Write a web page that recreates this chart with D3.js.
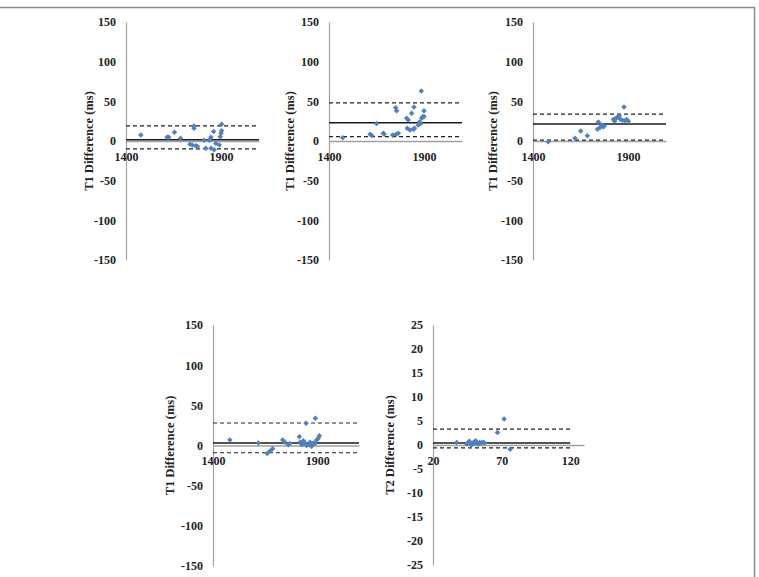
<!DOCTYPE html>
<html>
<head>
<meta charset="utf-8">
<script src="https://cdn.jsdelivr.net/npm/d3@7"></script>
<style>
  body { margin: 0; background: #fff; }
  svg text { font-family: "Liberation Serif", "Times New Roman", serif; fill: #222; }
  .tick text { font-size: 12px; font-weight: bold; }
  .ytitle { font-size: 12.5px; font-weight: bold; }
</style>
</head>
<body>
<svg width="759" height="577"></svg>
<script>
const width = 759;
const height = 577;
const svg = d3.select('svg');

// panel 1 (T1)
const p1X = [1478, 1616, 1625, 1655, 1687, 1758, 1758, 1737, 1749, 1767, 1776, 1811, 1820, 1838, 1847, 1847, 1861, 1864, 1873, 1891, 1896, 1900, 1903, 1903];
const p1Y = [7.6, 4.6, 4.6, 11, 3.4, 19, 16, -4, -5, -6, -7, 1, -9, 1, -9, 4.6, 12, -11, -3, -5, 5.4, 9.7, 13, 21];
const p1Lines = [1.5, 19, -10];

// panel 2 (T1)
const p2X = [1472, 1616, 1625, 1651, 1686, 1690, 1735, 1753, 1765, 1751, 1756, 1809, 1817, 1812, 1826, 1835, 1847, 1844, 1850, 1870, 1876, 1882, 1888, 1893, 1900, 1886, 1900];
const p2Y = [4, 8.4, 7, 22, 9.7, 8.5, 7.6, 8.4, 9.7, 42, 38, 28.6, 26.5, 16, 14, 35, 43, 14.7, 16, 20, 24, 22, 28.6, 30.7, 31, 63, 38];
const p2Lines = [23, 48, 5.5];

// panel 3 (T1)
const p3X = [1480, 1621, 1651, 1686, 1744, 1739, 1753, 1762, 1769, 1775, 1823, 1830, 1837, 1844, 1854, 1861, 1872, 1879, 1884, 1893, 1902];
const p3Y = [-1, 3.4, 12.6, 6.7, 24, 14.7, 17, 20, 18, 19, 27, 25, 28.6, 30, 31.5, 27, 26, 43, 25.6, 27, 25];
const p3Lines = [21.5, 34, 1];

// panel 4 (T1)
const p4X = [1481, 1617, 1660, 1673, 1686, 1734, 1745, 1761, 1768, 1814, 1817, 1826, 1833, 1841, 1846, 1849, 1862, 1865, 1873, 1881, 1889, 1891, 1897, 1905, 1910];
const p4Y = [7, 3, -10, -7, -4, 7, 4, 1, 2.5, 11, 4, 1, 6, 3, 27.6, 0, 1, 4, -1, 3, 2.5, 34, 7, 9, 12];
const p4Lines = [3, 28, -9];

// panel 5 (T2)
const p5X = [37.3, 44.6, 45.8, 47, 48, 49.4, 50.5, 51.7, 52.9, 54, 55.2, 56.4, 57.6, 46.5, 51, 67, 71.8, 76.2];
const p5Y = [0.5, 0.2, 0.6, 0.4, 0, 0.5, 0.4, 0.6, 0.2, 0.5, 0.4, 0.6, 0.4, 0.8, 0.9, 2.6, 5.4, -0.9];
const p5Lines = [0.4, 3.3, -0.6];

const t1Ticks = [-150, -100, -50, 0, 50, 100, 150];
const t2Ticks = [-25, -20, -15, -10, -5, 0, 5, 10, 15, 20, 25];
const t1XTicks = [1400, 1900];
const t2XTicks = [20, 70, 120];

const panels = [
    { xs: p1X, ys: p1Y, lines: p1Lines, xDom: [1400, 2100], lineEnd: 2100, yDom: [-150, 150], yTicks: t1Ticks, xTicks: t1XTicks, title: 'T1 Difference (ms)', left: 126, right: 259, top: 22, bottom: 260, titleOff: 37 },
    { xs: p2X, ys: p2Y, lines: p2Lines, xDom: [1400, 2100], lineEnd: 2100, yDom: [-150, 150], yTicks: t1Ticks, xTicks: t1XTicks, title: 'T1 Difference (ms)', left: 329, right: 462, top: 22, bottom: 260, titleOff: 39 },
    { xs: p3X, ys: p3Y, lines: p3Lines, xDom: [1400, 2100], lineEnd: 2100, yDom: [-150, 150], yTicks: t1Ticks, xTicks: t1XTicks, title: 'T1 Difference (ms)', left: 533, right: 666, top: 22, bottom: 260, titleOff: 40 },
    { xs: p4X, ys: p4Y, lines: p4Lines, xDom: [1400, 2100], lineEnd: 2100, yDom: [-150, 150], yTicks: t1Ticks, xTicks: t1XTicks, title: 'T1 Difference (ms)', left: 213, right: 359, top: 325, bottom: 566, titleOff: 43 },
    { xs: p5X, ys: p5Y, lines: p5Lines, xDom: [20, 130], lineEnd: 120, yDom: [-25, 25], yTicks: t2Ticks, xTicks: t2XTicks, title: 'T2 Difference (ms)', left: 433, right: 584, top: 325, bottom: 565, titleOff: 43 }
];

// frame round the figure
svg.append('line').attr('x1', 0).attr('x2', 755).attr('y1', 7.5).attr('y2', 7.5)
    .attr('stroke', '#8a8a8a').attr('stroke-width', 1.5);
svg.append('line').attr('x1', 754.5).attr('x2', 754.5).attr('y1', 7).attr('y2', height)
    .attr('stroke', '#8a8a8a').attr('stroke-width', 1.5);

const marker = d3.symbol().type(d3.symbolSquare).size(15);
const plain = d => String(d);

panels.forEach(p => {
    const xScale = d3.scaleLinear().domain(p.xDom).range([p.left, p.right]);
    const yScale = d3.scaleLinear().domain(p.yDom).range([p.bottom, p.top]);
    const g = svg.append('g');

    const yAxisG = g.append('g')
        .attr('transform', `translate(${p.left},0)`)
        .call(d3.axisLeft(yScale).tickValues(p.yTicks).tickFormat(plain)
            .tickSize(0).tickSizeOuter(0).tickPadding(10));
    yAxisG.select('.domain').attr('stroke', '#a0a0a0').attr('stroke-width', 1.2);

    const xAxisG = g.append('g')
        .attr('transform', `translate(0,${yScale(0)})`)
        .call(d3.axisBottom(xScale).tickValues(p.xTicks).tickFormat(plain)
            .tickSize(0).tickSizeOuter(0).tickPadding(11));
    xAxisG.select('.domain').attr('stroke', '#a0a0a0').attr('stroke-width', 1.5);

    g.selectAll('.tick text').attr('fill', '#222');

    g.append('text')
        .attr('class', 'ytitle')
        .text(p.title)
        .attr('text-anchor', 'middle')
        .attr('transform', `translate(${p.left - p.titleOff},${(p.top + p.bottom) / 2}) rotate(-90)`)
        .attr('dy', '0.35em');

    // mean and limits of agreement
    p.lines.forEach((v, i) => {
        g.append('line')
            .attr('x1', xScale(p.xDom[0])).attr('x2', xScale(p.lineEnd))
            .attr('y1', yScale(v)).attr('y2', yScale(v))
            .attr('stroke', i === 0 ? '#1a1a1a' : '#222')
            .attr('stroke-width', i === 0 ? 1.5 : 1.2)
            .attr('stroke-dasharray', i === 0 ? null : '4,3');
    });

    g.selectAll('path.pt')
        .data(p.xs.map((x, i) => [x, p.ys[i]]))
        .enter()
        .append('path')
        .attr('class', 'pt')
        .attr('d', marker)
        .attr('fill', '#4f81bd')
        .attr('transform', d => `translate(${xScale(d[0])},${yScale(d[1])}) rotate(45)`);
});
</script>
</body>
</html>
